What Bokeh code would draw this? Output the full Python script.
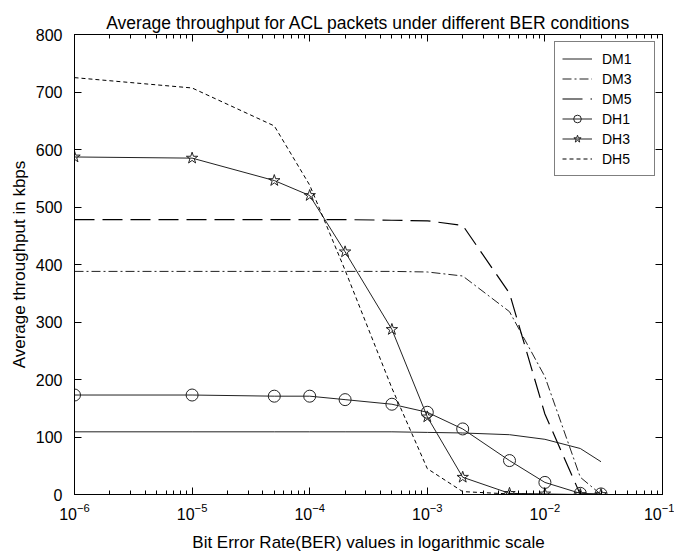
from bokeh.plotting import figure
from bokeh.models import FixedTicker, LogAxis, LinearAxis, Range1d
from bokeh.embed import file_html
from bokeh.resources import INLINE

# BER values (x) shared by every series
ber = [1e-6, 1e-5, 5e-5, 1e-4, 2e-4, 5e-4, 1e-3, 2e-3, 5e-3, 1e-2, 2e-2, 3e-2]

# Average throughput (kbps)
dm1 = [109, 109, 109, 109, 109, 109, 108, 107, 104, 96, 80, 57]
dm3 = [388, 388, 388, 388, 388, 388, 387, 380, 318, 205, 30, 0]
dm5 = [478, 478, 478, 478, 478, 477, 476, 468, 350, 140, 0, 0]
dh1 = [173, 173, 171, 171, 165, 157, 143, 114, 59, 21, 2, 1]
dh3 = [587, 585, 546, 520, 422, 287, 135, 30, 2, 1, 0, 0]
dh5 = [725, 707, 641, 538, 390, 185, 45, 5, 1, 0, 0, 0]

x_major = [1e-6, 1e-5, 1e-4, 1e-3, 1e-2, 1e-1]
y_major = [0, 100, 200, 300, 400, 500, 600, 700, 800]
x_minor = [m * d for d in x_major[:-1] for m in (2, 3, 4, 5, 6, 7, 8, 9)]

FONT = "Liberation Sans"
INK = "#222222"

p = figure(width=674, height=554, x_axis_type="log",
           x_range=Range1d(1e-6, 1e-1), y_range=Range1d(0, 800),
           output_backend="svg", toolbar_location=None,
           min_border_left=74, min_border_right=12,
           min_border_top=34, min_border_bottom=60)

p.title.text = "Average throughput for ACL packets under different BER conditions"
p.title.align = "center"
p.title.text_font = FONT
p.title.text_font_style = "normal"
p.title.text_font_size = "17.5px"
p.title.text_color = "black"
p.title.standoff = 4

p.xgrid.visible = False
p.ygrid.visible = False
p.outline_line_color = "black"
p.outline_line_alpha = 1.0

xt = FixedTicker(ticks=x_major, minor_ticks=x_minor)
yt = FixedTicker(ticks=y_major)

def style_axis(ax, show_labels=True):
    ax.major_tick_in = 7
    ax.major_tick_out = 0
    ax.minor_tick_in = 4
    ax.minor_tick_out = 0
    ax.axis_line_color = "black"
    ax.major_tick_line_color = "black"
    ax.minor_tick_line_color = "black"
    ax.major_label_text_font = FONT
    ax.major_label_text_color = "black"
    if show_labels:
        ax.major_label_text_font_size = "16px"
    else:
        ax.major_label_text_font_size = "1px"
        ax.major_label_text_alpha = 0
        ax.major_label_standoff = 0

p.xaxis.ticker = xt
p.yaxis.ticker = yt
style_axis(p.xaxis[0])
style_axis(p.yaxis[0])
p.yaxis.minor_tick_line_color = None
p.xaxis.axis_label = "Bit Error Rate(BER) values in logarithmic scale"
p.yaxis.axis_label = "Average throughput in kbps"
for ax in (p.xaxis[0], p.yaxis[0]):
    ax.axis_label_text_font = FONT
    ax.axis_label_text_font_style = "normal"
    ax.axis_label_text_font_size = "17px"
    ax.axis_label_text_color = "black"
p.xaxis.major_label_standoff = 8
p.xaxis.axis_label_standoff = 10
p.yaxis.major_label_standoff = 12
p.yaxis.axis_label_standoff = 4

top = LogAxis(ticker=xt)
style_axis(top, show_labels=False)
p.add_layout(top, "above")
right = LinearAxis(ticker=yt)
style_axis(right, show_labels=False)
right.minor_tick_line_color = None
p.add_layout(right, "right")

p.line(ber, dm1, line_color=INK, line_width=1, legend_label="DM1")
p.line(ber, dm3, line_color=INK, line_width=1, line_dash="9 3 2 3", legend_label="DM3")
p.line(ber, dm5, line_color="black", line_width=1.2, line_dash="20 8", legend_label="DM5")
p.line(ber, dh1, line_color=INK, line_width=1, legend_label="DH1")
p.scatter(ber, dh1, marker="circle", size=12, fill_color=None, line_color=INK, legend_label="DH1")
p.line(ber, dh3, line_color=INK, line_width=1, legend_label="DH3")
p.scatter(ber, dh3, marker="star", size=12, fill_color=None, line_color=INK, legend_label="DH3")
p.line(ber, dh5, line_color="black", line_width=1, line_dash="4 3", legend_label="DH5")

lg = p.legend[0]
lg.location = "top_right"
lg.margin = 7
lg.padding = 7
lg.spacing = 1
lg.glyph_width = 30
lg.glyph_height = 19
lg.label_height = 19
lg.label_width = 45
lg.label_standoff = 10
lg.label_text_font = FONT
lg.label_text_font_size = "14px"
lg.label_text_color = "black"
lg.border_line_color = "black"
lg.border_line_width = 1
lg.background_fill_color = "white"
lg.background_fill_alpha = 1.0

open("out.html", "w").write(file_html(p, INLINE))
